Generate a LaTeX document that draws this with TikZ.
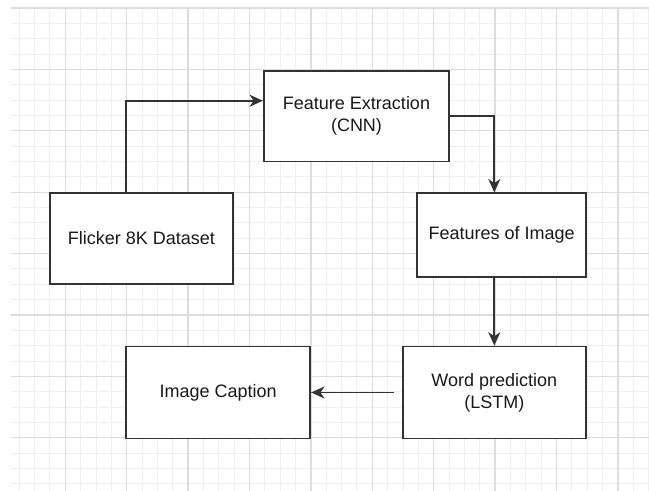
\documentclass[tikz,border=0pt]{standalone}
\usepackage{fontspec}
\setmainfont{Liberation Sans}
\usetikzlibrary{arrows.meta}

\definecolor{gridmajor}{HTML}{DCDCDC}
\definecolor{gridminor}{HTML}{EFEFEF}
\definecolor{boxline}{HTML}{333333}

\tikzset{
    block/.style={draw=boxline, line width=1.4pt, fill=white, align=center,
        inner sep=2pt, font=\fontsize{13.5}{16.3}\selectfont, text=black!90},
    flow/.style={draw=boxline, line width=1.3pt,
        -{Stealth[length=10pt, width=9pt, inset=3pt]}}
}

\begin{document}
\begin{tikzpicture}[x=0.75pt, y=-0.75pt]

    % Fix the page to the size of the screenshot
    \useasboundingbox (0,0) rectangle (649,491);
    \fill[white] (0,0) rectangle (649,491);

    % Define the grid spacing (minor and major)
    \def\gs{15.35}
    \def\GS{61.4}

    % Draw the minor grid lines
    \foreach \i in {1,...,42}
        \draw[gridminor, line width=0.75pt] (3.9+\gs*\i, 8) -- (3.9+\gs*\i, 491);
    \foreach \j in {1,...,31}
        \draw[gridminor, line width=0.75pt] (11, 8+\gs*\j) -- (649, 8+\gs*\j);

    % Draw the major grid lines
    \foreach \i in {1,...,10}
        \draw[gridmajor, line width=1pt] (3.9+\GS*\i, 8) -- (3.9+\GS*\i, 491);
    \foreach \j in {0,...,7}
        \draw[gridmajor, line width=1pt] (11, 8+\GS*\j) -- (649, 8+\GS*\j);

    % Place the five blocks of the pipeline
    \node[block, minimum width=137pt, minimum height=68pt] (data) at (141.5,238.5) {Flicker 8K Dataset};
    \node[block, minimum width=139pt, minimum height=68pt] (cnn) at (356.5,116.2) {Feature Extraction\\(CNN)};
    \node[block, minimum width=127pt, minimum height=63pt] (feat) at (501.7,235.3) {Features of Image};
    \node[block, minimum width=137pt, minimum height=69pt] (lstm) at (494.3,392.5) {Word prediction\\(LSTM)};
    \node[block, minimum width=138pt, minimum height=69pt] (caption) at (218.2,392.5) {Image Caption};

    % Draw the connectors between the blocks
    \draw[flow] ([xshift=-11.6pt]data.north) |- ([yshift=11.6pt]cnn.west);
    \draw[flow] (cnn.east) -| (feat.north -| lstm.north);
    \draw[flow] (feat.south -| lstm.north) -- (lstm.north);
    \draw[flow, shorten <=5.8pt] (lstm.west) -- (caption.east);

\end{tikzpicture}
\end{document}
